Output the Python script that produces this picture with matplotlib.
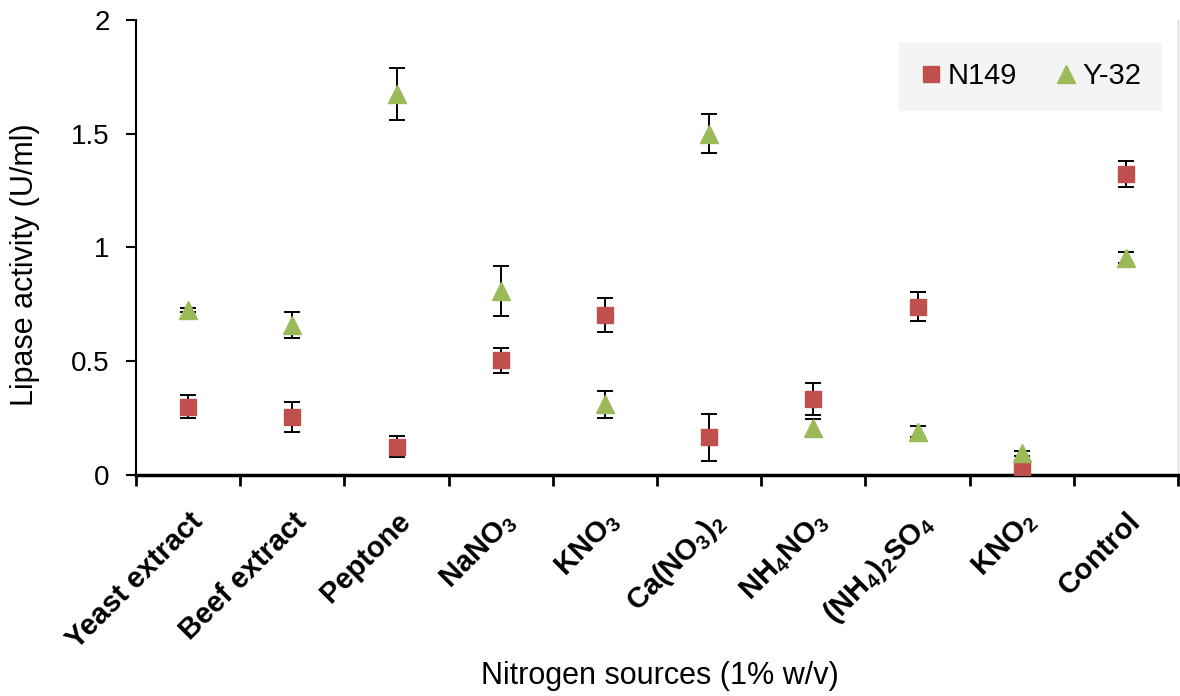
import matplotlib
matplotlib.use("Agg")
import matplotlib.pyplot as plt
from matplotlib.lines import Line2D
import numpy as np

plt.rcParams['font.family'] = ['Liberation Sans', 'DejaVu Sans']
plt.rcParams['mathtext.default'] = 'regular'

sources = ["Yeast extract", "Beef extract", "Peptone", "NaNO$_3$", "KNO$_3$",
           "Ca(NO$_3$)$_2$", "NH$_4$NO$_3$", "(NH$_4$)$_2$SO$_4$", "KNO$_2$", "Control"]

n149 = [0.30, 0.255, 0.125, 0.505, 0.705, 0.165, 0.335, 0.74, 0.03, 1.325]
n149_err = [0.05, 0.065, 0.045, 0.055, 0.075, 0.105, 0.07, 0.063, 0.01, 0.057]

y32 = [0.725, 0.66, 1.675, 0.81, 0.31, 1.50, 0.205, 0.19, 0.095, 0.955]
y32_err = [0.01, 0.058, 0.115, 0.11, 0.058, 0.085, 0.04, 0.025, 0.012, 0.025]

red = "#C0504D"
green = "#9BBB59"

fig = plt.figure(figsize=(11.8, 6.96), dpi=100)
ax = fig.add_axes([0.1153, 0.3175, 0.8830, 0.6538])

x = np.arange(1, len(sources) + 1)

ax.errorbar(x, n149, yerr=n149_err, fmt='s', color=red, ms=12, mec=red,
            ecolor='black', elinewidth=1.4, capsize=5.5, capthick=1.4, zorder=3)
ax.errorbar(x, y32, yerr=y32_err, fmt='^', color=green, ms=13, mec=green,
            ecolor='black', elinewidth=1.4, capsize=5.5, capthick=1.4, zorder=3)

ax.set_xlim(0.5, 10.5)
ax.set_ylim(0, 2)
ax.set_yticks([0, 0.5, 1, 1.5, 2])
ax.set_yticklabels(["0", "0.5", "1", "1.5", "2"])

# Ticks sit between categories, labels at category centres
ax.set_xticks(np.arange(0.5, 11.0, 1.0))
ax.set_xticklabels([])
ax.set_xticks(x, minor=True)
ax.set_xticklabels(sources, minor=True, rotation=45, ha='right', va='top',
                   rotation_mode='anchor', fontweight='bold', fontsize=21)
ax.tick_params(axis='x', which='minor', length=0, pad=23)
ax.tick_params(axis='x', which='major', direction='out', length=8, width=2)
ax.tick_params(axis='y', direction='out', length=7, width=1.5, labelsize=20, pad=12)

ax.spines['top'].set_visible(False)
ax.spines['right'].set_color('#D9D9D9')
ax.spines['right'].set_linewidth(1)
ax.spines['left'].set_linewidth(1.5)
ax.spines['bottom'].set_linewidth(2.5)

ax.set_ylabel("Lipase activity (U/ml)", fontsize=22)
ax.yaxis.set_label_coords(-0.1065, 0.4615)
ax.yaxis.label.set_va('center')
ax.set_xlabel("Nitrogen sources (1% w/v)", fontsize=22)
ax.xaxis.set_label_coords(0.503, -0.442)
ax.xaxis.label.set_va('center')

handles = [Line2D([], [], marker='s', ls='none', color=red, ms=12),
           Line2D([], [], marker='^', ls='none', color=green, ms=13)]
leg = ax.legend(handles, ["N149", "Y-32"], loc='upper right',
                bbox_to_anchor=(0.9846, 0.9516), borderaxespad=0, ncol=2,
                fontsize=21, frameon=True, fancybox=False, handlelength=0.8,
                handletextpad=0.15, columnspacing=1.3, borderpad=0.7)
leg.get_frame().set_facecolor('#F2F2F2')
leg.get_frame().set_edgecolor('none')

fig.savefig("out.png", dpi=100)
